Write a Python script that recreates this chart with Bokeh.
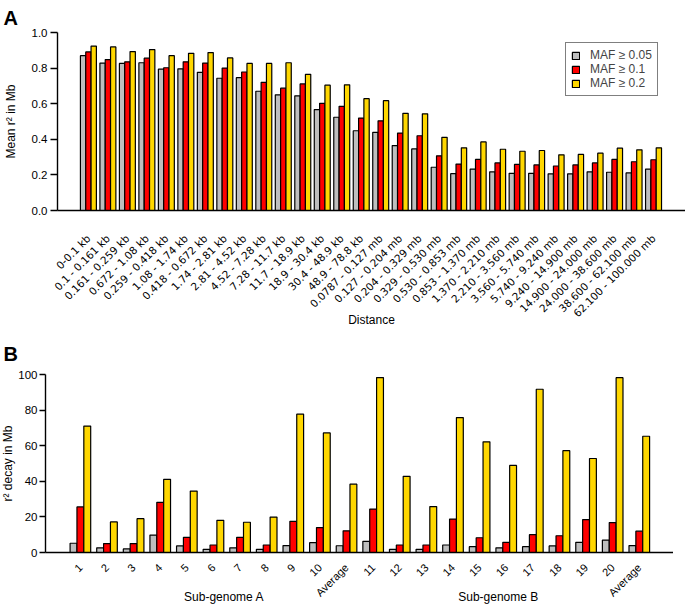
import math
from bokeh.plotting import figure
from bokeh.models import (Range1d, FixedTicker, Legend, LegendItem, LinearAxis,
                          ColumnDataSource, NumeralTickFormatter)
from bokeh.layouts import column
from bokeh.embed import file_html
from bokeh.resources import INLINE

# ---------------- data ----------------
distance_bins = [
    "0-0.1 kb", "0.1 - 0.161 kb", "0.161 - 0.259 kb", "0.672 - 1.08 kb", "0.259 - 0.418 kb",
    "1.08 - 1.74 kb", "0.418 - 0.672 kb", "1.74 - 2.81 kb", "2.81 - 4.52 kb", "4.52 - 7.28 kb",
    "7.28 - 11.7 kb", "11.7 - 18.9 kb", "18.9 - 30.4 kb", "30.4 - 48.9 kb", "48.9 - 78.8 kb",
    "0.0787 - 0.127 mb", "0.127 - 0.204 mb", "0.204 - 0.329 mb", "0.329 - 0.530 mb", "0.530 - 0.853 mb",
    "0.853 - 1.370 mb", "1.370 - 2.210 mb", "2.210 - 3.560 mb", "3.560 - 5.740 mb", "5.740 - 9.240 mb",
    "9.240 - 14.900 mb", "14.900 - 24.000 mb", "24.000 - 38.600 mb", "38.600 - 62.100 mb", "62.100 - 100.000 mb",
]
mean_r2_maf005 = [0.870, 0.828, 0.826, 0.830, 0.794, 0.796, 0.776, 0.743, 0.746, 0.670,
                  0.650, 0.644, 0.567, 0.524, 0.448, 0.439, 0.365, 0.346, 0.243, 0.207,
                  0.233, 0.217, 0.209, 0.209, 0.206, 0.206, 0.217, 0.215, 0.211, 0.233]
mean_r2_maf01 = [0.891, 0.848, 0.835, 0.856, 0.802, 0.835, 0.828, 0.800, 0.778, 0.720,
                 0.687, 0.711, 0.602, 0.585, 0.519, 0.504, 0.435, 0.420, 0.307, 0.261,
                 0.287, 0.267, 0.259, 0.256, 0.250, 0.256, 0.267, 0.287, 0.274, 0.285]
mean_r2_maf02 = [0.924, 0.919, 0.893, 0.904, 0.870, 0.883, 0.887, 0.857, 0.826, 0.826,
                 0.830, 0.765, 0.704, 0.706, 0.628, 0.617, 0.546, 0.543, 0.411, 0.352,
                 0.385, 0.344, 0.333, 0.337, 0.313, 0.315, 0.322, 0.350, 0.341, 0.352]

chromosomes = ["1", "2", "3", "4", "5", "6", "7", "8", "9", "10", "Average",
               "11", "12", "13", "14", "15", "16", "17", "18", "19", "20", "Average"]
decay_maf005 = [5.2, 2.6, 2.0, 9.8, 3.7, 1.8, 2.6, 1.8, 3.9, 5.5, 3.8,
                6.3, 1.8, 1.8, 4.2, 3.3, 2.6, 3.3, 3.7, 5.7, 7.0, 3.9]
decay_maf01 = [25.6, 5.0, 5.0, 28.2, 8.5, 4.2, 8.5, 4.2, 17.5, 14.0, 12.2,
               24.4, 4.2, 4.2, 18.8, 8.3, 5.7, 10.0, 9.4, 18.5, 16.8, 12.0]
decay_maf02 = [71.0, 17.2, 19.0, 41.1, 34.5, 18.1, 17.0, 19.9, 77.7, 67.2, 38.4,
               98.3, 42.8, 25.8, 75.8, 62.2, 48.9, 91.7, 57.2, 52.8, 98.2, 65.3]

subgenomes = ["Sub-genome A", "Sub-genome B"]
subgenome_centers = [5.4, 15.7]
series_names = ["MAF \u2265 0.05", "MAF \u2265 0.1", "MAF \u2265 0.2"]
series_colors = ["#BEBEBE", "#FF0000", "#FFD700"]

FONT = "Liberation Sans"


def style(p):
    p.background_fill_color = "white"
    p.border_fill_color = "white"
    p.outline_line_color = None
    p.xgrid.grid_line_color = None
    p.ygrid.grid_line_color = None
    for ax in (p.xaxis[0], p.yaxis[0]):
        ax.axis_line_color = "black"
        ax.axis_line_width = 1.4
        ax.minor_tick_line_color = None
        ax.major_label_text_color = "black"
        ax.axis_label_text_font = FONT
        ax.axis_label_text_font_size = "12px"
        ax.axis_label_text_font_style = "normal"
        ax.axis_label_text_color = "black"
    p.yaxis.major_tick_line_color = "black"
    p.yaxis.major_tick_line_width = 1.4
    p.yaxis.major_tick_in = 0
    p.yaxis.major_label_text_font = FONT
    p.yaxis.major_label_text_font_size = "11.5px"
    p.xaxis.major_tick_line_color = None
    p.xaxis.major_tick_in = 0
    p.xaxis.major_tick_out = 0
    p.xaxis.major_label_orientation = math.pi / 4
    p.title.text_font = FONT
    p.title.text_font_size = "20px"
    p.title.text_font_style = "bold"
    p.title.text_color = "black"
    p.title.align = "left"
    p.title.vertical_align = "bottom"


def bars(p, values_list, offset, width):
    rs = []
    n = len(values_list[0])
    for k, (vals, col) in enumerate(zip(values_list, series_colors)):
        src = ColumnDataSource(dict(x=[i + (k - 1) * offset for i in range(n)], top=vals))
        r = p.vbar(x="x", top="top", bottom=0, width=width, source=src,
                   fill_color=col, line_color="black", line_width=1.2)
        rs.append(r)
    return rs


# ---------------- panel A ----------------
pA = figure(width=685, height=330, x_range=Range1d(-1.586, 30.64), y_range=Range1d(0, 1.0),
            title="A", output_backend="svg", toolbar_location=None,
            min_border_left=55, min_border_right=0, min_border_top=31, min_border_bottom=119)
style(pA)
pA.title.offset = -54
pA.title.standoff = 8
rA = bars(pA, [mean_r2_maf005, mean_r2_maf01, mean_r2_maf02], 0.273, 0.273)
pA.yaxis.ticker = FixedTicker(ticks=[0, 0.2, 0.4, 0.6, 0.8, 1.0])
pA.yaxis.formatter = NumeralTickFormatter(format="0.0")
pA.yaxis.major_tick_out = 7
pA.yaxis.major_label_standoff = 3
pA.yaxis.axis_label = "Mean r\u00b2 in Mb"
pA.yaxis.axis_label_standoff = 11
pA.xaxis.ticker = FixedTicker(ticks=list(range(len(distance_bins))))
pA.xaxis.major_label_overrides = {i: s for i, s in enumerate(distance_bins)}
pA.xaxis.major_label_text_font = "DejaVu Sans"
pA.xaxis.major_label_text_font_size = "10.5px"
pA.xaxis.major_label_standoff = 26
pA.xaxis.axis_label = "Distance"
pA.xaxis.axis_label_standoff = -13

legend = Legend(items=[LegendItem(label=n, renderers=[r]) for n, r in zip(series_names, rA)],
                location=(508, 114))
legend.border_line_color = "black"
legend.border_line_width = 1.5
legend.background_fill_color = "white"
legend.background_fill_alpha = 1
legend.padding = 5
legend.spacing = -3
legend.margin = 0
legend.glyph_width = 9
legend.glyph_height = 9
legend.label_height = 9
legend.label_standoff = 10
legend.label_text_font = FONT
legend.label_text_font_size = "12px"
pA.add_layout(legend, "center")

# ---------------- panel B ----------------
# frame of B sits 12px further left on the page than the frame of A
pB = figure(width=685, height=276, x_range=Range1d(-1.311, 22.285), y_range=Range1d(0, 100),
            title="B", output_backend="svg", toolbar_location=None,
            min_border_left=55, min_border_right=0, min_border_top=44, min_border_bottom=51,
            styles={"margin-left": "-12px"})
style(pB)
pB.title.offset = -42
pB.title.standoff = 20
bars(pB, [decay_maf005, decay_maf01, decay_maf02], 0.258, 0.258)
pB.yaxis.ticker = FixedTicker(ticks=[0, 20, 40, 60, 80, 100])
pB.yaxis.major_tick_out = 6
pB.yaxis.major_label_standoff = 2
pB.yaxis.axis_label = "r\u00b2 decay in Mb"
pB.yaxis.axis_label_standoff = 0
pB.xaxis.ticker = FixedTicker(ticks=list(range(len(chromosomes))))
pB.xaxis.major_label_overrides = {i: s for i, s in enumerate(chromosomes)}
pB.xaxis.major_label_text_font = FONT
pB.xaxis.major_label_text_font_size = "11px"
pB.xaxis.major_label_standoff = 13

group_axis = LinearAxis(ticker=FixedTicker(ticks=subgenome_centers),
                        major_label_overrides={c: s for c, s in zip(subgenome_centers, subgenomes)})
group_axis.axis_line_color = None
group_axis.major_tick_line_color = None
group_axis.minor_tick_line_color = None
group_axis.major_tick_in = 0
group_axis.major_tick_out = 0
group_axis.major_label_standoff = -16
group_axis.major_label_text_font = FONT
group_axis.major_label_text_font_size = "12px"
group_axis.major_label_text_color = "black"
pB.add_layout(group_axis, "below")

layout = column(pA, pB, spacing=0)
open("out.html", "w").write(file_html(layout, INLINE))
